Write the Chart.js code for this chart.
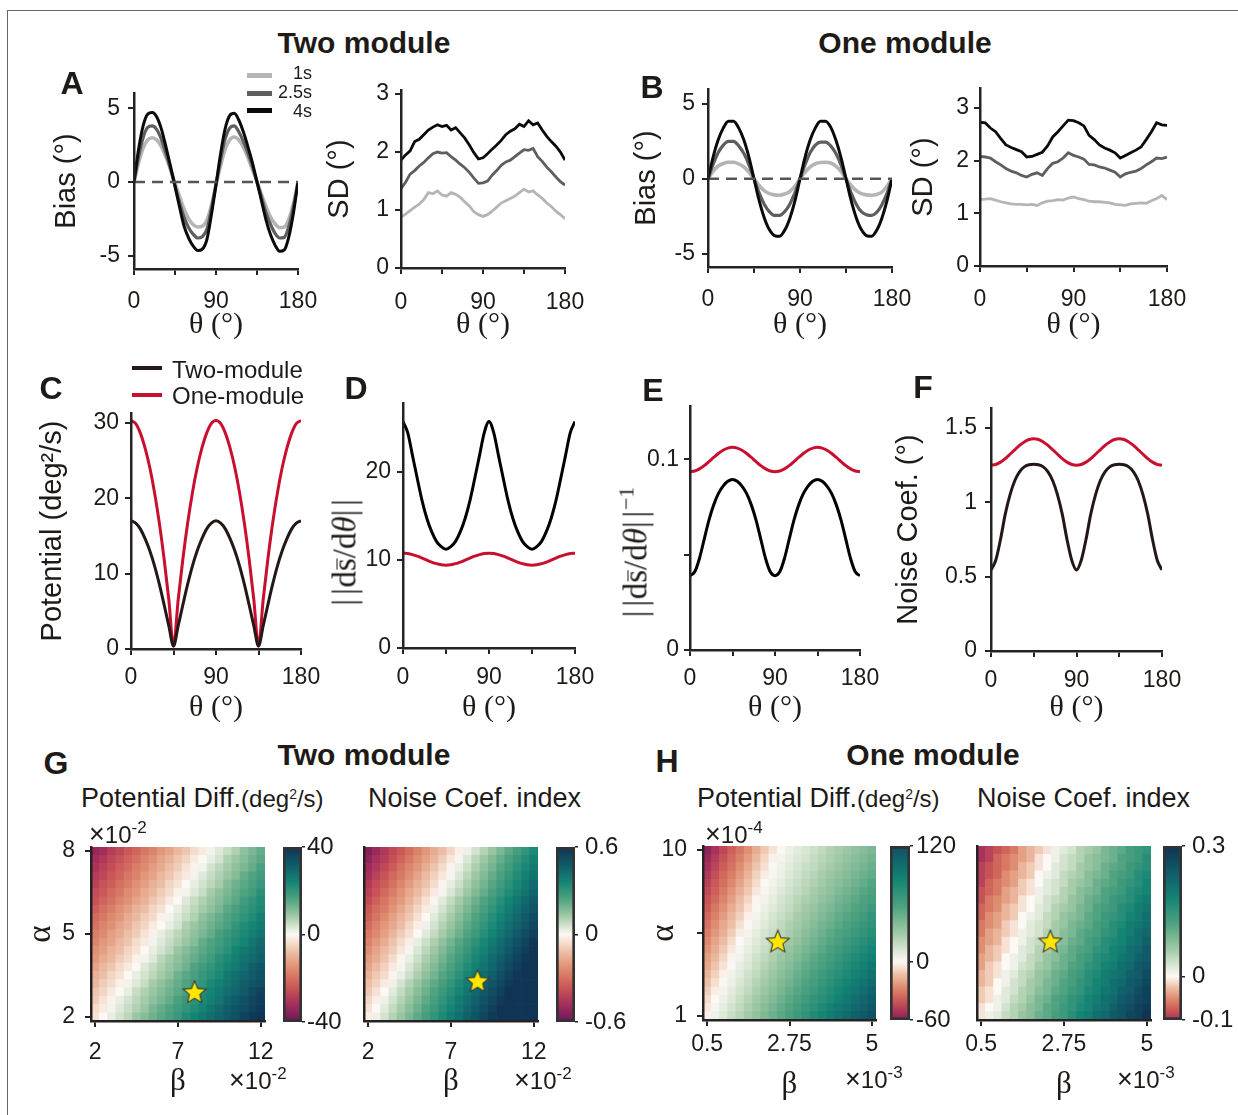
<!DOCTYPE html>
<html><head><meta charset="utf-8">
<script src="https://cdn.jsdelivr.net/npm/chart.js@4.4.0/dist/chart.umd.min.js"></script>
<style>
body{margin:0;background:#fff;}
#page{position:relative;width:1238px;height:1115px;overflow:hidden;font-family:"Liberation Sans",Arial,sans-serif;color:#1e1a18;background:#fff;}
#frame{position:absolute;left:7px;top:10px;width:1240px;height:1110px;border-top:1.5px solid #666;border-left:1.5px solid #666;}
canvas{position:absolute;}
.t{position:absolute;white-space:nowrap;line-height:1;}
.sup{position:relative;top:-0.6em;vertical-align:baseline;line-height:0;}
.bars{letter-spacing:0.02em;font-weight:normal;}
</style></head><body><div id="page"><div id="frame"></div></div>
<script>
// ---------------- DATA ----------------
const theta = [0,5,10,15,20,25,30,35,40,45,50,55,60,65,70,75,80,85,90,95,100,105,110,115,120,125,130,135,140,145,150,155,160,165,170,175,180];
const thetaTicks = [0,45,90,135,180];
const thetaLabels = ['0','','90','','180'];
const zeroLineTheta = [0,180];
const zeroLineBias = [0,0];
const seriesNames = ['1s','2.5s','4s'];

// A: two module bias / SD
const biasTwo1s = [0,1.3,2.3,2.85,3.0,2.85,2.4,1.7,0.85,-0.1,-1.0,-1.85,-2.5,-2.9,-3.05,-3.0,-2.6,-1.6,-0.2,1.1,2.2,2.85,3.05,2.85,2.35,1.65,0.85,0,-0.85,-1.7,-2.4,-2.85,-3.1,-3.05,-2.5,-1.45,0];
const biasTwo25s = [0,1.7,3.0,3.7,3.8,3.55,2.9,1.95,0.9,-0.25,-1.4,-2.4,-3.1,-3.55,-3.8,-3.7,-3.2,-1.8,-0.15,1.5,2.9,3.65,3.8,3.4,2.75,1.95,1.05,0,-1.05,-2.1,-2.9,-3.5,-3.8,-3.75,-3.0,-1.7,0];
const biasTwo4s = [0,2.2,3.8,4.6,4.7,4.4,3.6,2.4,1.1,-0.3,-1.7,-3.0,-3.8,-4.35,-4.65,-4.55,-3.9,-2.2,-0.2,1.9,3.6,4.5,4.65,4.2,3.4,2.4,1.3,0.0,-1.3,-2.6,-3.6,-4.3,-4.7,-4.6,-3.7,-2.1,0];
const sdTwo1s = [0.88,0.93,0.99,1.05,1.10,1.18,1.30,1.28,1.33,1.26,1.24,1.30,1.27,1.22,1.14,1.07,0.97,0.92,0.89,0.92,0.98,1.05,1.12,1.16,1.20,1.24,1.30,1.36,1.31,1.33,1.26,1.20,1.12,1.06,0.98,0.92,0.85];
const sdTwo25s = [1.37,1.48,1.62,1.68,1.76,1.82,1.90,1.97,2.00,1.98,1.99,1.92,1.86,1.79,1.73,1.65,1.55,1.46,1.47,1.50,1.60,1.68,1.77,1.83,1.86,1.92,1.98,2.04,2.03,2.06,1.92,1.84,1.74,1.66,1.57,1.49,1.43];
const sdTwo4s = [1.86,1.95,2.02,2.18,2.22,2.30,2.38,2.43,2.47,2.44,2.46,2.38,2.42,2.33,2.24,2.12,1.99,1.88,1.90,1.97,2.05,2.12,2.20,2.30,2.36,2.40,2.48,2.44,2.54,2.47,2.50,2.38,2.27,2.18,2.10,2.0,1.86];

// B: one module bias / SD
const biasOne1s = [0,0.5,0.85,1.02,1.1,1.1,1.0,0.8,0.45,0,-0.45,-0.8,-1.0,-1.08,-1.1,-1.02,-0.85,-0.5,0,0.45,0.8,1.0,1.08,1.1,1.05,0.85,0.5,0,-0.45,-0.8,-1.0,-1.08,-1.1,-1.05,-0.9,-0.5,0];
const biasOne25s = [0,0.95,1.75,2.25,2.5,2.5,2.2,1.7,0.95,0,-0.95,-1.7,-2.2,-2.45,-2.45,-2.2,-1.7,-0.95,0,0.95,1.75,2.25,2.45,2.45,2.2,1.7,0.95,0,-0.95,-1.7,-2.2,-2.4,-2.45,-2.25,-1.75,-1.0,0];
const biasOne4s = [0,1.45,2.6,3.4,3.85,3.85,3.4,2.6,1.45,0,-1.45,-2.6,-3.4,-3.8,-3.85,-3.45,-2.65,-1.5,0,1.45,2.6,3.4,3.85,3.85,3.45,2.6,1.45,0,-1.45,-2.6,-3.4,-3.8,-3.85,-3.45,-2.65,-1.5,0];
const sdOne1s = [1.26,1.27,1.28,1.25,1.22,1.20,1.18,1.17,1.17,1.16,1.17,1.15,1.20,1.23,1.24,1.26,1.25,1.29,1.31,1.28,1.26,1.23,1.22,1.22,1.21,1.20,1.17,1.16,1.15,1.18,1.19,1.20,1.19,1.24,1.28,1.34,1.26];
const sdOne25s = [2.08,2.07,2.05,1.98,1.92,1.85,1.80,1.77,1.72,1.69,1.74,1.77,1.72,1.85,1.95,1.98,2.05,2.15,2.10,2.07,2.03,1.93,1.92,1.88,1.86,1.82,1.78,1.69,1.75,1.78,1.80,1.85,1.92,1.98,2.05,2.04,2.07];
const sdOne4s = [2.73,2.72,2.62,2.55,2.42,2.30,2.25,2.21,2.17,2.07,2.08,2.12,2.16,2.28,2.45,2.55,2.66,2.77,2.76,2.72,2.66,2.48,2.40,2.30,2.24,2.20,2.15,2.05,2.10,2.15,2.20,2.26,2.40,2.55,2.72,2.68,2.67];

// C-F: two-module vs one-module
const potTwo = [17.0,16.7,15.9,14.6,13.0,11.0,8.6,5.9,3.1,0.4,3.1,5.9,8.6,11.0,13.0,14.6,15.9,16.7,17.0,16.7,15.9,14.6,13.0,11.0,8.6,5.9,3.1,0.4,3.1,5.9,8.6,11.0,13.0,14.6,15.9,16.7,17.0];
const potOne = [30.3,29.9,28.6,26.6,24.0,20.7,16.7,12.0,6.6,0.4,6.6,12.0,16.7,20.7,24.0,26.6,28.6,29.9,30.3,29.9,28.6,26.6,24.0,20.7,16.7,12.0,6.6,0.4,6.6,12.0,16.7,20.7,24.0,26.6,28.6,29.9,30.3];
const normTwo = [25.7,24.4,21.8,19.2,16.7,14.7,13.2,12.1,11.5,11.2,11.5,12.1,13.2,14.7,16.7,19.2,21.8,24.4,25.7,24.4,21.8,19.2,16.7,14.7,13.2,12.1,11.5,11.2,11.5,12.1,13.2,14.7,16.7,19.2,21.8,24.4,25.7];
const normOne = [10.75,10.72,10.6,10.42,10.2,9.97,9.75,9.57,9.45,9.4,9.45,9.57,9.75,9.97,10.2,10.42,10.6,10.72,10.75,10.72,10.6,10.42,10.2,9.97,9.75,9.57,9.45,9.4,9.45,9.57,9.75,9.97,10.2,10.42,10.6,10.72,10.75];
const invTwo = [0.039,0.041,0.048,0.058,0.068,0.076,0.082,0.086,0.0885,0.0895,0.0885,0.086,0.082,0.076,0.068,0.058,0.048,0.041,0.039,0.041,0.048,0.058,0.068,0.076,0.082,0.086,0.0885,0.0895,0.0885,0.086,0.082,0.076,0.068,0.058,0.048,0.041,0.039];
const invOne = [0.0935,0.0939,0.095,0.0967,0.0988,0.101,0.1031,0.1048,0.1059,0.1063,0.1059,0.1048,0.1031,0.101,0.0988,0.0967,0.095,0.0939,0.0935,0.0939,0.095,0.0967,0.0988,0.101,0.1031,0.1048,0.1059,0.1063,0.1059,0.1048,0.1031,0.101,0.0988,0.0967,0.095,0.0939,0.0935];
const noiseTwo = [0.545,0.61,0.75,0.92,1.05,1.145,1.205,1.238,1.252,1.255,1.252,1.238,1.205,1.145,1.05,0.92,0.75,0.61,0.545,0.61,0.75,0.92,1.05,1.145,1.205,1.238,1.252,1.255,1.252,1.238,1.205,1.145,1.05,0.92,0.75,0.61,0.545];
const noiseOne = [1.249,1.254,1.27,1.294,1.323,1.353,1.383,1.406,1.422,1.427,1.422,1.406,1.383,1.353,1.323,1.294,1.27,1.254,1.249,1.254,1.27,1.294,1.323,1.353,1.383,1.406,1.422,1.427,1.422,1.406,1.383,1.353,1.323,1.294,1.27,1.254,1.249];

const biasTicks = [-5,0,5];
const sdTicks = [0,1,2,3];
const potTicks = [0,10,20,30];
const normTicks = [0,10,20];
const invTicks = [0,0.05,0.1];
const invLabels = ['0','','0.1'];
const noiseTicks = [0,0.5,1,1.5];

// G / H heatmaps (rows = alpha ascending, columns = beta ascending)
const betaG = [2,2.5,3,3.5,4,4.5,5,5.5,6,6.5,7,7.5,8,8.5,9,9.5,10,10.5,11,11.5,12];
const alphaG = [2,2.3,2.6,2.9,3.2,3.5,3.8,4.1,4.4,4.7,5,5.3,5.6,5.9,6.2,6.5,6.8,7.1,7.4,7.7,8];
const betaTicksG = [2,7,12];
const alphaTicksG = [2,5,8];
const betaH = [0.5,0.725,0.95,1.175,1.4,1.625,1.85,2.075,2.3,2.525,2.75,2.975,3.2,3.425,3.65,3.875,4.1,4.325,4.55,4.775,5];
const alphaH = [1,1.45,1.9,2.35,2.8,3.25,3.7,4.15,4.6,5.05,5.5,5.95,6.4,6.85,7.3,7.75,8.2,8.65,9.1,9.55,10];
const betaTicksH = [0.5,2.75,5];
const betaLabelsH = ['0.5','2.75','5'];
const alphaTicksH = [1,5.5,10];
const alphaLabelsH = ['1','','10'];

const potDiffTwo = [
[-3,0,2,4,6,9,11,13,15,17,19,22,24,26,28,30,32,34,37,39,40],
[-4,-2,1,3,5,7,9,12,14,16,18,20,22,24,27,29,31,33,35,37,39],
[-6,-3,-1,2,4,6,8,10,12,14,17,19,21,23,25,27,30,32,34,36,38],
[-7,-5,-2,0,2,5,7,9,11,13,15,17,20,22,24,26,28,30,32,35,37],
[-9,-6,-4,-1,1,3,5,8,10,12,14,16,18,20,23,25,27,29,31,33,35],
[-10,-8,-5,-3,0,2,4,6,8,10,13,15,17,19,21,23,26,28,30,32,34],
[-12,-9,-7,-4,-2,0,3,5,7,9,11,13,16,18,20,22,24,26,28,31,33],
[-14,-11,-9,-6,-4,-1,1,3,6,8,10,12,14,16,18,21,23,25,27,29,31],
[-15,-13,-10,-8,-5,-3,0,2,4,6,9,11,13,15,17,19,21,24,26,28,30],
[-17,-14,-12,-9,-7,-4,-2,1,3,5,7,9,11,14,16,18,20,22,24,27,29],
[-18,-16,-13,-11,-8,-6,-3,-1,2,4,6,8,10,12,14,17,19,21,23,25,27],
[-20,-17,-15,-12,-10,-7,-5,-2,0,2,4,7,9,11,13,15,17,20,22,24,26],
[-21,-19,-16,-14,-11,-9,-6,-4,-1,1,3,5,7,10,12,14,16,18,20,22,25],
[-23,-20,-18,-15,-13,-10,-8,-5,-3,0,2,4,6,8,10,12,15,17,19,21,23],
[-25,-22,-20,-17,-15,-12,-10,-7,-5,-2,0,3,5,7,9,11,13,15,18,20,22],
[-26,-24,-21,-19,-16,-14,-11,-9,-6,-4,-1,1,3,5,8,10,12,14,16,18,21],
[-28,-25,-23,-20,-18,-15,-13,-10,-8,-5,-3,0,2,4,6,8,11,13,15,17,19],
[-29,-27,-24,-22,-19,-17,-14,-12,-9,-7,-4,-2,1,3,5,7,9,11,14,16,18],
[-31,-28,-26,-23,-21,-18,-16,-13,-11,-8,-6,-3,-1,1,4,6,8,10,12,14,17],
[-32,-30,-27,-25,-22,-20,-17,-15,-12,-10,-7,-5,-2,0,2,4,7,9,11,13,15],
[-34,-32,-29,-27,-24,-22,-19,-17,-14,-12,-9,-7,-4,-2,1,3,5,7,10,12,14]];

const noiseIdxTwo = [
[-0.02,0.02,0.06,0.10,0.14,0.18,0.22,0.26,0.30,0.34,0.38,0.42,0.46,0.50,0.54,0.58,0.6,0.6,0.6,0.6,0.6],
[-0.05,0.00,0.04,0.08,0.12,0.16,0.20,0.24,0.28,0.32,0.36,0.40,0.44,0.48,0.52,0.56,0.6,0.6,0.6,0.6,0.6],
[-0.07,-0.02,0.02,0.06,0.10,0.14,0.18,0.22,0.26,0.30,0.34,0.38,0.42,0.46,0.50,0.54,0.58,0.6,0.6,0.6,0.6],
[-0.10,-0.05,0.00,0.04,0.08,0.12,0.16,0.20,0.24,0.28,0.32,0.36,0.40,0.44,0.48,0.52,0.56,0.6,0.6,0.6,0.6],
[-0.12,-0.08,-0.03,0.02,0.06,0.10,0.14,0.18,0.22,0.26,0.30,0.34,0.38,0.42,0.46,0.50,0.54,0.58,0.6,0.6,0.6],
[-0.15,-0.10,-0.06,-0.01,0.03,0.07,0.11,0.15,0.19,0.23,0.27,0.31,0.35,0.39,0.43,0.47,0.51,0.55,0.59,0.6,0.6],
[-0.18,-0.13,-0.08,-0.03,0.01,0.05,0.09,0.13,0.17,0.21,0.25,0.29,0.33,0.37,0.41,0.45,0.49,0.53,0.57,0.6,0.6],
[-0.20,-0.16,-0.11,-0.06,-0.01,0.03,0.07,0.11,0.15,0.19,0.23,0.27,0.31,0.35,0.39,0.43,0.47,0.51,0.55,0.59,0.6],
[-0.23,-0.18,-0.13,-0.09,-0.04,0.01,0.05,0.09,0.13,0.17,0.21,0.25,0.29,0.33,0.37,0.41,0.45,0.49,0.53,0.57,0.6],
[-0.26,-0.21,-0.16,-0.11,-0.06,-0.02,0.03,0.07,0.11,0.15,0.19,0.23,0.27,0.31,0.35,0.39,0.43,0.47,0.51,0.55,0.59],
[-0.28,-0.24,-0.19,-0.14,-0.09,-0.05,0.00,0.04,0.08,0.12,0.16,0.20,0.24,0.28,0.32,0.36,0.40,0.44,0.48,0.52,0.56],
[-0.31,-0.26,-0.21,-0.17,-0.12,-0.07,-0.02,0.02,0.06,0.10,0.14,0.18,0.22,0.26,0.30,0.34,0.38,0.42,0.46,0.50,0.54],
[-0.34,-0.29,-0.24,-0.19,-0.14,-0.10,-0.05,0.00,0.04,0.08,0.12,0.16,0.20,0.24,0.28,0.32,0.36,0.40,0.44,0.48,0.52],
[-0.36,-0.31,-0.27,-0.22,-0.17,-0.12,-0.07,-0.03,0.02,0.06,0.10,0.14,0.18,0.22,0.26,0.30,0.34,0.38,0.42,0.46,0.50],
[-0.39,-0.34,-0.29,-0.24,-0.20,-0.15,-0.10,-0.05,-0.01,0.04,0.08,0.12,0.16,0.20,0.24,0.28,0.32,0.36,0.40,0.44,0.48],
[-0.42,-0.37,-0.32,-0.27,-0.22,-0.17,-0.13,-0.08,-0.03,0.01,0.05,0.09,0.13,0.17,0.21,0.25,0.29,0.33,0.37,0.41,0.45],
[-0.44,-0.39,-0.35,-0.30,-0.25,-0.20,-0.15,-0.11,-0.06,-0.01,0.03,0.07,0.11,0.15,0.19,0.23,0.27,0.31,0.35,0.39,0.43],
[-0.47,-0.42,-0.37,-0.32,-0.28,-0.23,-0.18,-0.13,-0.08,-0.04,0.01,0.05,0.09,0.13,0.17,0.21,0.25,0.29,0.33,0.37,0.41],
[-0.49,-0.45,-0.40,-0.35,-0.30,-0.25,-0.21,-0.16,-0.11,-0.06,-0.01,0.03,0.07,0.11,0.15,0.19,0.23,0.27,0.31,0.35,0.39],
[-0.52,-0.47,-0.43,-0.38,-0.33,-0.28,-0.23,-0.19,-0.14,-0.09,-0.04,0.01,0.05,0.09,0.13,0.17,0.21,0.25,0.29,0.33,0.37],
[-0.55,-0.50,-0.45,-0.40,-0.36,-0.31,-0.26,-0.21,-0.16,-0.12,-0.07,-0.02,0.02,0.06,0.10,0.14,0.18,0.22,0.26,0.30,0.34]];

const potDiffOne = [
[-2,5,11,17,23,29,35,41,47,53,59,65,72,78,84,90,96,102,108,114,120],
[-4,2,8,14,20,26,32,38,44,50,56,62,68,74,80,86,92,97,103,109,115],
[-7,0,5,11,17,23,29,35,40,46,52,58,64,70,75,81,87,93,99,105,110],
[-10,-3,3,9,14,20,26,32,37,43,49,54,60,66,72,77,83,89,94,100,106],
[-13,-6,1,6,12,17,23,29,34,40,45,51,57,62,68,73,79,85,90,96,101],
[-16,-9,-2,4,9,15,20,26,31,37,42,48,53,59,64,70,75,80,86,91,97],
[-19,-12,-5,1,7,12,17,23,28,34,39,44,50,55,60,66,71,77,82,87,93],
[-21,-15,-8,-1,4,10,15,20,25,31,36,41,46,52,57,62,67,73,78,83,88],
[-24,-18,-11,-4,2,7,12,17,23,28,33,38,43,48,53,59,64,69,74,79,84],
[-27,-20,-14,-7,0,5,10,15,20,25,30,35,40,45,50,55,60,65,70,75,80],
[-30,-23,-17,-10,-3,3,8,13,17,22,27,32,37,42,47,52,57,61,66,71,76],
[-33,-26,-19,-13,-6,1,5,10,15,20,25,29,34,39,44,48,53,58,63,68,72],
[-36,-29,-22,-15,-9,-2,3,8,13,17,22,27,31,36,41,45,50,55,59,64,69],
[-39,-32,-25,-18,-12,-5,1,6,10,15,19,24,29,33,38,42,47,51,56,60,65],
[-41,-35,-28,-21,-14,-8,-1,4,8,13,17,22,26,30,35,39,44,48,52,57,61],
[-44,-38,-31,-24,-17,-11,-4,2,6,11,15,19,23,28,32,36,41,45,49,54,58],
[-47,-40,-34,-27,-20,-13,-7,0,4,8,13,17,21,25,29,34,38,42,46,50,55],
[-50,-43,-36,-30,-23,-16,-9,-3,2,6,11,15,19,23,27,31,35,39,43,47,51],
[-53,-46,-39,-33,-26,-19,-12,-6,1,5,9,13,17,20,24,28,32,36,40,44,48],
[-56,-49,-42,-35,-29,-22,-15,-8,-2,3,7,11,14,18,22,26,30,34,37,41,45],
[-59,-52,-45,-38,-32,-25,-18,-11,-5,1,5,9,12,16,20,24,27,31,35,38,42]];

const noiseIdxOne = [
[-0.01,0.01,0.02,0.04,0.05,0.07,0.08,0.10,0.11,0.13,0.14,0.16,0.18,0.19,0.21,0.22,0.24,0.25,0.27,0.28,0.30],
[-0.01,0.00,0.01,0.03,0.05,0.06,0.08,0.09,0.11,0.12,0.14,0.15,0.17,0.18,0.20,0.21,0.23,0.25,0.26,0.28,0.29],
[-0.02,-0.01,0.01,0.02,0.04,0.05,0.07,0.09,0.10,0.12,0.13,0.15,0.16,0.18,0.19,0.21,0.22,0.24,0.25,0.27,0.28],
[-0.02,-0.01,0.00,0.02,0.03,0.05,0.06,0.08,0.09,0.11,0.12,0.14,0.15,0.17,0.18,0.20,0.21,0.23,0.24,0.26,0.28],
[-0.03,-0.02,0.00,0.01,0.03,0.04,0.06,0.07,0.09,0.10,0.12,0.13,0.15,0.16,0.18,0.19,0.21,0.22,0.24,0.25,0.27],
[-0.03,-0.02,-0.01,0.01,0.02,0.04,0.05,0.07,0.08,0.10,0.11,0.13,0.14,0.16,0.17,0.19,0.20,0.21,0.23,0.24,0.26],
[-0.04,-0.02,-0.01,0.00,0.01,0.03,0.04,0.06,0.07,0.09,0.10,0.12,0.13,0.15,0.16,0.18,0.19,0.21,0.22,0.24,0.25],
[-0.04,-0.03,-0.02,0.00,0.01,0.02,0.04,0.05,0.07,0.08,0.10,0.11,0.13,0.14,0.16,0.17,0.18,0.20,0.21,0.23,0.24],
[-0.05,-0.03,-0.02,-0.01,0.00,0.02,0.03,0.05,0.06,0.08,0.09,0.11,0.12,0.13,0.15,0.16,0.18,0.19,0.21,0.22,0.24],
[-0.05,-0.04,-0.03,-0.01,0.00,0.01,0.03,0.04,0.06,0.07,0.08,0.10,0.11,0.13,0.14,0.16,0.17,0.18,0.20,0.21,0.23],
[-0.06,-0.04,-0.03,-0.02,-0.01,0.01,0.02,0.03,0.05,0.06,0.08,0.09,0.11,0.12,0.13,0.15,0.16,0.18,0.19,0.21,0.22],
[-0.06,-0.05,-0.04,-0.02,-0.01,0.00,0.02,0.03,0.04,0.06,0.07,0.09,0.10,0.11,0.13,0.14,0.16,0.17,0.19,0.20,0.21],
[-0.07,-0.05,-0.04,-0.03,-0.02,0.00,0.01,0.02,0.04,0.05,0.07,0.08,0.09,0.11,0.12,0.14,0.15,0.16,0.18,0.19,0.21],
[-0.07,-0.06,-0.05,-0.03,-0.02,-0.01,0.00,0.02,0.03,0.05,0.06,0.07,0.09,0.10,0.12,0.13,0.14,0.16,0.17,0.19,0.20],
[-0.08,-0.06,-0.05,-0.04,-0.03,-0.01,0.00,0.01,0.03,0.04,0.05,0.07,0.08,0.10,0.11,0.12,0.14,0.15,0.16,0.18,0.19],
[-0.08,-0.07,-0.06,-0.04,-0.03,-0.02,-0.01,0.01,0.02,0.03,0.05,0.06,0.08,0.09,0.10,0.12,0.13,0.14,0.16,0.17,0.18],
[-0.09,-0.07,-0.06,-0.05,-0.04,-0.02,-0.01,0.00,0.02,0.03,0.04,0.06,0.07,0.08,0.10,0.11,0.12,0.14,0.15,0.16,0.18],
[-0.09,-0.08,-0.07,-0.05,-0.04,-0.03,-0.02,0.00,0.01,0.02,0.04,0.05,0.06,0.08,0.09,0.10,0.12,0.13,0.14,0.16,0.17],
[-0.09,-0.08,-0.07,-0.06,-0.05,-0.03,-0.02,-0.01,0.00,0.02,0.03,0.04,0.06,0.07,0.08,0.10,0.11,0.12,0.14,0.15,0.16],
[-0.10,-0.09,-0.07,-0.06,-0.05,-0.04,-0.03,-0.01,0.00,0.01,0.03,0.04,0.05,0.07,0.08,0.09,0.10,0.12,0.13,0.14,0.16],
[-0.10,-0.09,-0.08,-0.07,-0.06,-0.04,-0.03,-0.02,-0.01,0.01,0.02,0.03,0.05,0.06,0.07,0.09,0.10,0.11,0.13,0.14,0.15]];

const starG1 = [8.0, 2.87];
const starG2 = [8.6, 3.27];
const starH1 = [2.43, 5.0];
const starH2 = [2.38, 5.0];

const cbarG1 = {min:-40,max:40,ticks:[-40,0,40],labels:['-40','0','40']};
const cbarG2 = {min:-0.6,max:0.6,ticks:[-0.6,0,0.6],labels:['-0.6','0','0.6']};
const cbarH1 = {min:-60,max:120,ticks:[-60,0,120],labels:['-60','0','120']};
const cbarH2 = {min:-0.1,max:0.3,ticks:[-0.1,0,0.3],labels:['-0.1','0','0.3']};

// ---------------- STYLE / HELPERS ----------------
const TXT = '#1e1a18', AX = '#262223';
const C1 = '#b5b5b5', C25 = '#5e5e5e', C4 = '#0a0a0a', CTWO = '#231815', CONE = '#c8102e';
Chart.defaults.font.family = "'Liberation Sans', Arial, sans-serif";
Chart.defaults.color = TXT;
const page = document.getElementById('page');

const stops = [
 [-1.0,[105,25,90]],[-0.8,[165,45,92]],[-0.6,[203,88,86]],[-0.4,[222,138,110]],[-0.2,[236,190,165]],[-0.08,[246,226,212]],
 [0.0,[252,248,244]],[0.08,[220,232,215]],[0.2,[165,203,168]],[0.4,[80,163,128]],[0.6,[20,132,116]],[0.8,[16,90,105]],[1.0,[15,52,85]]];
function cmapT(t){
  t = Math.max(-1, Math.min(1, t));
  for (let k=1;k<stops.length;k++){
    if (t <= stops[k][0]){
      const [t0,c0]=stops[k-1],[t1,c1]=stops[k]; const f=(t-t0)/(t1-t0);
      return 'rgb('+c0.map((c,i)=>Math.round(c+(c1[i]-c)*f)).join(',')+')';
    }
  }
  return 'rgb('+stops[stops.length-1][1].join(',')+')';
}
function cmap(v, cm){ return cmapT(v<0 ? -cm.tn*Math.min(1,-v/cm.neg) : cm.tp*Math.min(1,v/cm.pos)); }
const cmG1={neg:40,pos:40,tn:1,tp:1}, cmG2={neg:0.6,pos:0.6,tn:1,tp:1}, cmH1={neg:60,pos:120,tn:0.9,tp:0.85}, cmH2={neg:0.1,pos:0.3,tn:0.78,tp:1};

function makeStar(r){
  const s=Math.ceil(2*r+4), c=document.createElement('canvas'); c.width=s; c.height=s;
  const g=c.getContext('2d'); g.beginPath();
  for(let k=0;k<10;k++){const a=-Math.PI/2+k*Math.PI/5, rr=k%2?r*0.45:r; g.lineTo(s/2+rr*Math.cos(a), s/2+rr*Math.sin(a));}
  g.closePath(); g.fillStyle='#ffe800'; g.fill(); g.lineWidth=1.1; g.strokeStyle='#3a3a3a'; g.stroke(); return c;
}
const starImg = makeStar(12);

function place(x,y,w,h){const c=document.createElement('canvas');c.width=w;c.height=h;c.style.left=x+'px';c.style.top=y+'px';c.style.width=w+'px';c.style.height=h+'px';page.appendChild(c);return c;}
function fixAxis(size,horizontal){return s=>{if(horizontal)s.height=size;else s.width=size;s.paddingLeft=0;s.paddingRight=0;s.paddingTop=0;s.paddingBottom=0;};}
function tickSetter(vals){return s=>{s.ticks=vals.map(v=>({value:v}));};}
function labeler(vals,labels){return v=>{const i=vals.indexOf(v);return i<0?'':(labels?labels[i]:String(v));};}
function series(label,vals,color,width,smooth){return {label,data:theta.map((t,i)=>({x:t,y:vals[i]})),borderColor:color,borderWidth:width,pointRadius:0,fill:false,tension:0,cubicInterpolationMode:smooth?'monotone':'default'};}
function zeroLine(){return {label:'zero',data:zeroLineTheta.map((t,i)=>({x:t,y:zeroLineBias[i]})),borderColor:'#555',borderWidth:2.5,borderDash:[11,7],pointRadius:0,fill:false};}
const gridOpt = {drawOnChartArea:false,drawTicks:true,tickLength:6,color:AX,tickColor:AX,lineWidth:2,tickWidth:2};
const borderOpt = {display:true,color:AX,width:2.5,z:1};
const SERIFFAM = "'Liberation Serif', 'Times New Roman', serif";

function lineChart(o){
  const [x,y,w,h]=o.canvas,[L,T,R,B]=o.area;
  const cv=place(x,y,w,h);
  return new Chart(cv,{type:'line',data:{datasets:o.datasets},options:{
    responsive:false,animation:false,events:[],
    layout:{padding:{left:0,top:T-y,right:x+w-R,bottom:0}},
    plugins:{legend:{display:false},tooltip:{enabled:false}},
    scales:{
      x:{type:'linear',min:0,max:180,afterBuildTicks:tickSetter(thetaTicks),afterFit:fixAxis(y+h-B,true),
        ticks:{callback:labeler(thetaTicks,thetaLabels),font:{size:23},color:TXT,padding:o.xpad,maxRotation:0,autoSkip:false},
        grid:gridOpt,border:borderOpt,
        title:{display:true,text:'θ (°)',font:{family:SERIFFAM,size:30},color:TXT,padding:0}},
      y:{type:'linear',min:o.ymin,max:o.ymax,afterBuildTicks:tickSetter(o.yticks),afterFit:fixAxis(L-x,false),
        ticks:{callback:labeler(o.yticks,o.ylabels),font:{size:23},color:TXT,padding:o.ypad,autoSkip:false},
        grid:gridOpt,border:borderOpt,
        title:{display:!!o.ytitle,text:o.ytitle||'',font:{size:29},color:TXT,padding:0}}
    }}});
}

function heatChart(o){
  const [x,y,w,h]=o.canvas,[L,T,R,B]=o.area;
  const cv=place(x,y,w,h);
  const hb=(o.betas[1]-o.betas[0])/2, ha=(o.alphas[1]-o.alphas[0])/2;
  const ds=[{type:'scatter',label:'star',order:0,data:[{x:o.star[0],y:o.star[1]}],pointStyle:starImg,pointRadius:12}];
  o.alphas.forEach((a,i)=>ds.push({type:'bar',label:'α='+a,order:1,grouped:false,barPercentage:1,categoryPercentage:1,borderWidth:0,
    data:o.betas.map((b,j)=>({x:b,y:[a-ha,a+ha],v:o.values[i][j]})),
    backgroundColor:c=>c.raw?cmap(c.raw.v,o.cm):'#fff'}));
  return new Chart(cv,{type:'bar',data:{datasets:ds},options:{
    responsive:false,animation:false,events:[],
    layout:{padding:{left:0,top:T-y,right:x+w-R,bottom:0}},
    plugins:{legend:{display:false},tooltip:{enabled:false}},
    scales:{
      x:{type:'linear',offset:false,min:o.betas[0]-hb,max:o.betas[o.betas.length-1]+hb,afterBuildTicks:tickSetter(o.xticks),afterFit:fixAxis(y+h-B,true),
        ticks:{callback:labeler(o.xticks,o.xlabels),font:{size:23},color:TXT,padding:o.xpad,maxRotation:0,autoSkip:false},
        grid:Object.assign({},gridOpt,{offset:false}),border:borderOpt,
        title:{display:true,text:'β',font:{family:SERIFFAM,size:31},color:TXT,padding:0}},
      y:{type:'linear',beginAtZero:false,min:o.alphas[0]-ha,max:o.alphas[o.alphas.length-1]+ha,afterBuildTicks:tickSetter(o.yticks),afterFit:fixAxis(L-x,false),
        ticks:{display:!!o.ylabels,callback:labeler(o.yticks,o.ylabels||[]),font:{size:23},color:TXT,padding:o.ypad||6,autoSkip:false},
        grid:Object.assign({},gridOpt,{offset:false}),border:borderOpt,
        title:{display:!!o.ytitle,text:o.ytitle||'',font:{family:SERIFFAM,size:33},color:TXT,padding:0}}
    }}});
}

function colorbar(o){
  const [x,y,w,h]=o.canvas,[L,T,R,B]=o.area, cb=o.cb;
  const cv=place(x,y,w,h);
  return new Chart(cv,{type:'bar',data:{labels:[''],datasets:[{label:'colorbar',data:[[cb.min,cb.max]],barPercentage:1,categoryPercentage:1,
    borderColor:'#333',borderWidth:3,borderSkipped:false,
    backgroundColor:c=>{const ch=c.chart;if(!ch.chartArea)return '#fff';const ys=ch.scales.y;
      const g=ch.ctx.createLinearGradient(0,ys.getPixelForValue(cb.min),0,ys.getPixelForValue(cb.max));
      for(let k=0;k<=64;k++){g.addColorStop(k/64,cmap(cb.min+(cb.max-cb.min)*k/64,o.cm));}return g;}}]},
    options:{responsive:false,animation:false,events:[],
      layout:{padding:{left:0,top:T-y,right:0,bottom:y+h-B}},
      plugins:{legend:{display:false},tooltip:{enabled:false}},
      scales:{x:{display:false},
        y:{position:'right',beginAtZero:false,min:cb.min,max:cb.max,afterBuildTicks:tickSetter(cb.ticks),afterFit:fixAxis(x+w-R,false),
          ticks:{callback:labeler(cb.ticks,cb.labels),font:{size:24},color:TXT,padding:o.pad,autoSkip:false},
          grid:{drawOnChartArea:false,drawTicks:true,tickLength:3,color:AX,tickColor:AX,lineWidth:1.5},border:{display:false}}}}});
}

// ---------------- CHARTS ----------------
lineChart({canvas:[50,78,273,265],area:[134,93,298,269],ymin:-5.9,ymax:6.03,yticks:biasTicks,ytitle:'Bias (°)',xpad:13,ypad:8,
  datasets:[zeroLine(),series(seriesNames[2],biasTwo4s,C4,3,true),series(seriesNames[1],biasTwo25s,C25,3.2,true),series(seriesNames[0],biasTwo1s,C1,3.6,true)]});
lineChart({canvas:[323,75,267,268],area:[401,90,565,268],ymin:0,ymax:3.07,yticks:sdTicks,ytitle:'SD (°)',xpad:15,ypad:6,
  datasets:[series(seriesNames[2],sdTwo4s,C4,2.8,false),series(seriesNames[1],sdTwo25s,C25,2.8,false),series(seriesNames[0],sdTwo1s,C1,2.8,false)]});
lineChart({canvas:[630,75,287,268],area:[708,89,892,267],ymin:-5.9,ymax:6.0,yticks:biasTicks,ytitle:'Bias (°)',xpad:13,ypad:7,
  datasets:[zeroLine(),series(seriesNames[2],biasOne4s,C4,3,true),series(seriesNames[1],biasOne25s,C25,3.2,true),series(seriesNames[0],biasOne1s,C1,3.6,true)]});
lineChart({canvas:[907,75,285,268],area:[980,88,1167,266],ymin:0,ymax:3.38,yticks:sdTicks,ytitle:'SD (°)',xpad:14,ypad:5,
  datasets:[series(seriesNames[2],sdOne4s,C4,2.8,false),series(seriesNames[1],sdOne25s,C25,2.8,false),series(seriesNames[0],sdOne1s,C1,2.8,false)]});

lineChart({canvas:[36,398,290,328],area:[131,413,301,649],ymin:0,ymax:31.3,yticks:potTicks,ytitle:'Potential (deg²/s)',xpad:9,ypad:6,
  datasets:[series('Two-module',potTwo,CTWO,3,true),series('One-module',potOne,CONE,3,true)]});
lineChart({canvas:[330,390,270,336],area:[403,403,575,648],ymin:0,ymax:27.8,yticks:normTicks,xpad:10,ypad:6,
  datasets:[series('Two-module',normTwo,'#000',3,true),series('One-module',normOne,CONE,3,true)]});
lineChart({canvas:[605,390,280,336],area:[690,406,860,650],ymin:0,ymax:0.128,yticks:invTicks,ylabels:invLabels,xpad:9,ypad:5,
  datasets:[series('Two-module',invTwo,'#000',3,true),series('One-module',invOne,CONE,3,true)]});
lineChart({canvas:[892,390,295,336],area:[991,408,1162,651],ymin:0,ymax:1.634,yticks:noiseTicks,ytitle:'Noise Coef. (°)',xpad:10,ypad:8,
  datasets:[series('Two-module',noiseTwo,CTWO,3,true),series('One-module',noiseOne,CONE,3,true)]});

heatChart({canvas:[22,832,268,268],area:[91,847,265,1021],betas:betaG,alphas:alphaG,values:potDiffTwo,cm:cmG1,star:starG1,
  xticks:betaTicksG,xlabels:['2','7','12'],yticks:alphaTicksG,ylabels:['2','5','8'],ytitle:'α',xpad:12,ypad:10});
heatChart({canvas:[345,832,220,268],area:[364,847,538,1021],betas:betaG,alphas:alphaG,values:noiseIdxTwo,cm:cmG2,star:starG2,
  xticks:betaTicksG,xlabels:['2','7','12'],yticks:alphaTicksG,xpad:12});
heatChart({canvas:[645,831,255,272],area:[703,846,876,1020],betas:betaH,alphas:alphaH,values:potDiffOne,cm:cmH1,star:starH1,
  xticks:betaTicksH,xlabels:betaLabelsH,yticks:alphaTicksH,ylabels:alphaLabelsH,ytitle:'α',xpad:5,ypad:10});
heatChart({canvas:[958,831,215,272],area:[977,846,1151,1020],betas:betaH,alphas:alphaH,values:noiseIdxOne,cm:cmH2,star:starH2,
  xticks:betaTicksH,xlabels:betaLabelsH,yticks:alphaTicksH,xpad:5});

colorbar({canvas:[283,830,75,210],area:[283,847,302,1022],cb:cbarG1,cm:cmG1,pad:2});
colorbar({canvas:[556,830,75,210],area:[556,847,575,1022],cb:cbarG2,cm:cmG2,pad:7});
colorbar({canvas:[890,829,75,210],area:[890,846,910,1020],cb:cbarH1,cm:cmH1,pad:3});
colorbar({canvas:[1163,829,75,210],area:[1163,846,1182,1020],cb:cbarH2,cm:cmH2,pad:7});

// ---------------- TEXT OVERLAYS ----------------
function txt(html,x,y,css,anchor){const d=document.createElement('div');d.className='t';d.innerHTML=html;
  const tr={c:'translate(-50%,-50%)',l:'translate(0,-50%)',r:'translate(-100%,-50%)',v:'translate(-50%,-50%) rotate(-90deg)'}[anchor||'c'];
  d.style.cssText+=(css||'')+';left:'+x+'px;top:'+y+'px;transform:'+tr;page.appendChild(d);}
function legLine(x,y,w,t,color){const d=document.createElement('div');d.style.cssText='position:absolute;left:'+x+'px;top:'+(y-t/2)+'px;width:'+w+'px;height:'+t+'px;background:'+color;page.appendChild(d);}

const TB='font-weight:bold;font-size:30px';
txt('Two module',364,43,TB); txt('One module',905,43,TB);
txt('Two module',364,755,TB); txt('One module',933,755,TB);
const LB='font-weight:bold;font-size:32px';
[['A',72,83],['B',652,87],['C',51,388],['D',356,388],['E',653,390],['F',923,387],['G',56,763],['H',667,761]].forEach(a=>txt(a[0],a[1],a[2],LB));

// legend A
legLine(247,75,25,5,C1); legLine(247,93,25,5,C25); legLine(247,110,25,5,C4);
txt(seriesNames[0],312,73,'font-size:18px','r'); txt(seriesNames[1],312,92,'font-size:18px','r'); txt(seriesNames[2],312,111,'font-size:18px','r');
// legend C
legLine(132,368,30,4,CTWO); legLine(132,395,30,4,CONE);
txt('Two-module',172,370,'font-size:24px','l'); txt('One-module',172,396,'font-size:24px','l');

// D / E math labels
const SERIF="font-family:'Liberation Serif','DejaVu Serif',serif;font-size:33px";
const sbar='<span style="position:relative">s<span style="position:absolute;left:0.04em;right:0.02em;top:0.3em;border-top:1.6px solid #1e1a18"></span></span>';
const BARS='<span class="bars">|&#8202;|</span>';
txt(BARS+'d'+sbar+'/d<i>θ</i>'+BARS,345,552,SERIF,'v');
txt(BARS+'d'+sbar+'/d<i>θ</i>'+BARS+'<span class="sup" style="font-size:22px">−1</span>',636,552,SERIF,'v');

// G/H subtitles
const SUB='<span style="font-size:24px">(deg<span class="sup" style="font-size:14px">2</span>/s)</span>';
txt('Potential Diff.'+SUB,81,798,'font-size:27px','l'); txt('Noise Coef. index',368,798,'font-size:27px','l');
txt('Potential Diff.'+SUB,697,798,'font-size:27px','l'); txt('Noise Coef. index',977,798,'font-size:27px','l');

// exponent labels
function expo(e,x,y){txt('<span style="font-size:27px">×</span>10<span class="sup" style="font-size:17px">'+e+'</span>',x,y,'font-size:24px','l');}
expo('-2',89,834); expo('-2',229,1080); expo('-2',514,1080);
expo('-4',705,834); expo('-3',845,1079); expo('-3',1117,1079);
</script></body></html>
